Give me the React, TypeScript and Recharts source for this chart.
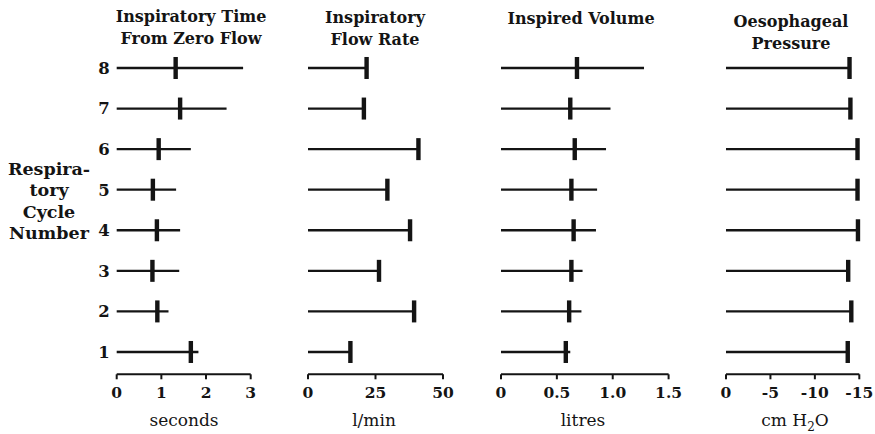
import { ComposedChart, XAxis, YAxis, Scatter, ReferenceLine } from "recharts"

const FONT = '"DejaVu Serif", serif'
const INK = "#141414"

// cycle numbers, bottom to top
const cycles = [1, 2, 3, 4, 5, 6, 7, 8]

// inspiratory time from zero flow (seconds): marker and end of line
const timeMark = [1.66, 0.91, 0.8, 0.9, 0.81, 0.94, 1.42, 1.32]
const timeEnd = [1.83, 1.16, 1.4, 1.42, 1.33, 1.66, 2.46, 2.83]

// inspiratory flow rate (l/min)
const flowRate = [15.7, 39.3, 26.3, 37.8, 29.4, 40.9, 20.7, 21.7]

// inspired volume (litres): marker and end of line
const volumeMark = [0.58, 0.61, 0.63, 0.65, 0.63, 0.66, 0.62, 0.68]
const volumeEnd = [0.62, 0.72, 0.73, 0.85, 0.86, 0.94, 0.98, 1.28]

// oesophageal pressure (cm H2O)
const pressure = [-13.7, -14.1, -13.75, -14.85, -14.8, -14.8, -14.0, -13.9]

const timeTicks = [0, 1, 2, 3]
const flowTicks = [0, 25, 50]
const volumeTicks = [0, 0.5, 1.0, 1.5]
const pressureTicks = [0, -5, -10, -15]

type Row = { cycle: number; mark: number; end: number }

const rowsOf = (marks: number[], ends: number[]): Row[] =>
  cycles.map((c, i) => ({ cycle: c, mark: marks[i], end: ends[i] }))

const TOP = 47.7
const AXIS_Y = 374.3
const H = 434

const Marker = (props: any) => {
  const { cx, cy } = props
  if (cx == null || cy == null) return null
  return <rect x={cx - 2.2} y={cy - 11} width={4.4} height={22} fill={INK} />
}

type PanelProps = {
  plotLeft: number
  plotWidth: number
  domain: [number, number]
  ticks: number[]
  reversed?: boolean
  fmt?: (v: number) => string
  rows: Row[]
  showCycles?: boolean
}

function Panel({ plotLeft, plotWidth, domain, ticks, reversed, fmt, rows, showCycles }: PanelProps) {
  const pad = 20
  const left = showCycles ? 0 : plotLeft - pad
  const yWidth = showCycles ? plotLeft : 0
  const width = (showCycles ? plotLeft : pad) + plotWidth + pad
  return (
    <div style={{ position: "absolute", left, top: 0 }}>
      <ComposedChart
        width={width}
        height={H}
        data={rows}
        margin={{ top: TOP, right: pad, bottom: H - AXIS_Y - 30, left: showCycles ? 0 : pad }}
      >
        <XAxis
          type="number"
          dataKey="mark"
          domain={domain}
          ticks={ticks}
          reversed={reversed}
          interval={0}
          height={30}
          tickFormatter={fmt}
          axisLine={{ stroke: INK, strokeWidth: 2 }}
          tickLine={{ stroke: INK, strokeWidth: 2 }}
          tickSize={5}
          tickMargin={8}
          tick={{ fill: INK, fontSize: 15.5, fontFamily: FONT, fontWeight: "bold" }}
        />
        <YAxis
          type="number"
          dataKey="cycle"
          domain={[0.45, 8.5]}
          ticks={cycles}
          interval={0}
          hide={!showCycles}
          width={yWidth}
          axisLine={false}
          tickLine={false}
          tickSize={0}
          tickMargin={7}
          tick={{ fill: INK, fontSize: 16.5, fontFamily: FONT, fontWeight: "bold" }}
        />
        {rows.map((r) => (
          <ReferenceLine
            key={r.cycle}
            segment={[
              { x: 0, y: r.cycle },
              { x: r.end, y: r.cycle },
            ]}
            stroke={INK}
            strokeWidth={2.3}
          />
        ))}
        <Scatter dataKey="mark" fill={INK} shape={Marker} isAnimationActive={false} />
      </ComposedChart>
    </div>
  )
}

const textBase: React.CSSProperties = {
  position: "absolute",
  fontFamily: FONT,
  color: INK,
  textAlign: "center",
  whiteSpace: "nowrap",
}

function Title({ cx, top, lines }: { cx: number; top: number; lines: string[] }) {
  return (
    <div style={{ ...textBase, left: cx - 110, width: 220, top, fontSize: 16, fontWeight: "bold", lineHeight: "22px" }}>
      {lines.map((l) => (
        <div key={l}>{l}</div>
      ))}
    </div>
  )
}

function Unit({ cx, children }: { cx: number; children: React.ReactNode }) {
  return (
    <div style={{ ...textBase, left: cx - 60, width: 120, top: 410, fontSize: 17, lineHeight: "20px" }}>
      {children}
    </div>
  )
}

export default function App() {
  const one = (v: number) => (v === 0 ? "0" : v.toFixed(1))
  return (
    <div style={{ position: "absolute", left: 0, top: 0, width: 875, height: 434, background: "#fff", overflow: "hidden" }}>
      <Panel plotLeft={116.7} plotWidth={134} domain={[0, 3]} ticks={timeTicks} rows={rowsOf(timeMark, timeEnd)} showCycles />
      <Panel plotLeft={308.3} plotWidth={135} domain={[0, 50]} ticks={flowTicks} rows={rowsOf(flowRate, flowRate)} />
      <Panel plotLeft={500.7} plotWidth={167.6} domain={[0, 1.5]} ticks={volumeTicks} fmt={one} rows={rowsOf(volumeMark, volumeEnd)} />
      <Panel plotLeft={725.7} plotWidth={133.3} domain={[-15, 0]} reversed ticks={pressureTicks} rows={rowsOf(pressure, pressure)} />

      <Title cx={191} top={6} lines={["Inspiratory Time", "From Zero Flow"]} />
      <Title cx={375} top={7} lines={["Inspiratory", "Flow Rate"]} />
      <Title cx={581} top={8} lines={["Inspired Volume"]} />
      <Title cx={791} top={11} lines={["Oesophageal", "Pressure"]} />

      <div style={{ ...textBase, left: 0, width: 98, top: 159, fontSize: 17.5, fontWeight: "bold", lineHeight: "21.3px" }}>
        <div>Respira-</div>
        <div>tory</div>
        <div>Cycle</div>
        <div>Number</div>
      </div>

      <Unit cx={184}>seconds</Unit>
      <Unit cx={374}>l/min</Unit>
      <Unit cx={583}>litres</Unit>
      <Unit cx={795}>
        cm H<sub style={{ fontSize: 12, verticalAlign: "-5px", lineHeight: 0 }}>2</sub>O
      </Unit>
    </div>
  )
}
